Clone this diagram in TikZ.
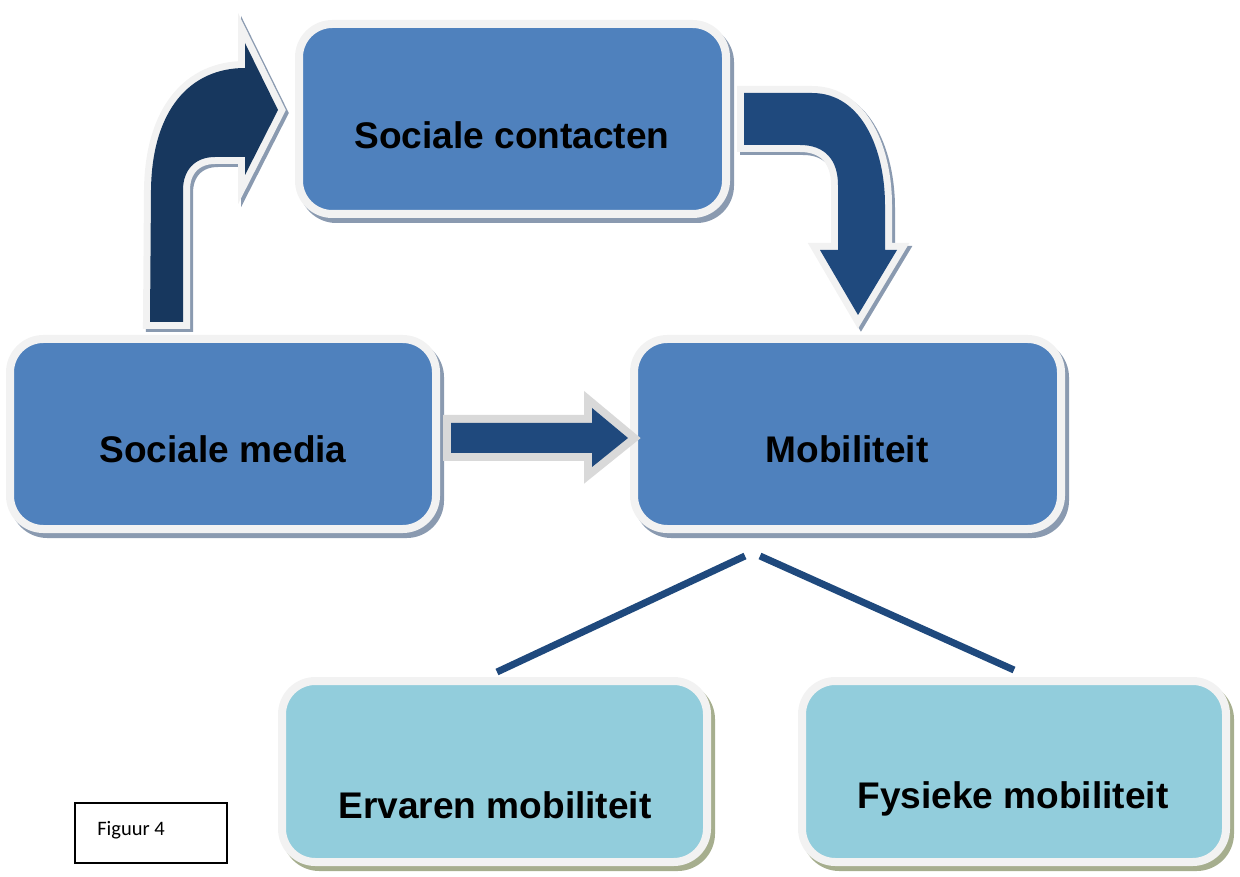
\documentclass[tikz,border=0pt]{standalone}
\usepackage{fontspec}
\setmainfont{Liberation Sans}
\newfontfamily\calibri{Carlito}
\definecolor{boxblue}{HTML}{4F81BD}
\definecolor{lightbox}{HTML}{92CDDC}
\definecolor{rim}{HTML}{F2F2F2}
\definecolor{rimdark}{HTML}{D9D9D9}
\definecolor{shadeblue}{HTML}{8A9AB0}
\definecolor{shadeolive}{HTML}{A6AE8E}
\definecolor{navy}{HTML}{17375E}
\definecolor{arrowblue}{HTML}{1F497D}
\tikzset{
  box/.style={rectangle, rounded corners=25pt, draw=rim, line width=6pt,
    inner sep=0pt, outer sep=0pt,
    preaction={draw=#1, fill=#1, line width=6pt,
      transform canvas={xshift=3pt, yshift=-3.75pt}}},
  bluebox/.style={box=shadeblue, fill=boxblue},
  cyanbox/.style={box=shadeolive, fill=lightbox},
  lbl/.style={anchor=base, inner sep=0pt, font=\fontsize{27.8}{30}\selectfont\bfseries},
  blockarrow/.style={line join=miter, line width=10.5pt},
  conn/.style={draw=arrowblue, line width=5.25pt},
}
\begin{document}
\begin{tikzpicture}[x=0.75pt, y=-0.75pt]
\useasboundingbox (0,0) rectangle (1240,877);

% boxes
\node[bluebox, minimum width=320.25pt, minimum height=142.5pt] (sc) at (512.5,119) {};
\node[bluebox, minimum width=319.5pt, minimum height=142.5pt] (sm) at (223,434) {};
\node[bluebox, minimum width=320.25pt, minimum height=142.5pt] (mob) at (847.5,434) {};
\node[cyanbox, minimum width=318.75pt, minimum height=135.75pt] (er) at (494.5,771.5) {};
\node[cyanbox, minimum width=318pt, minimum height=135.75pt] (fy) at (1014,771.5) {};

% labels
\node[lbl] (tsc) at (512,149) {Sociale contacten};
\node[lbl] (tsm) at (223,463) {Sociale media};
\node[lbl] (tmob) at (847,463) {Mobiliteit};
\node[lbl] (ter) at (495,818) {Ervaren mobiliteit};
\node[lbl] (tfy) at (1013,808) {Fysieke mobiliteit};

% curved arrow: Sociale media -> Sociale contacten
\def\arrowA{(150,322) -- (151,190) .. controls (152,110) and (190,68) .. (245,68)
  -- (245,43) -- (278,110) -- (245,175) -- (245,157) -- (215,157)
  .. controls (195,157) and (183,170) .. (183,190) -- (183,322) -- cycle}
\path[blockarrow, draw=shadeblue, fill=shadeblue, transform canvas={xshift=2.25pt, yshift=-2.25pt}] \arrowA;
\path[blockarrow, draw=rim, fill=rim] \arrowA;
\fill[navy] \arrowA;

% curved arrow: Sociale contacten -> Mobiliteit
\def\arrowB{(744,93) -- (812,93) .. controls (862,93) and (885,150) .. (885,205)
  -- (885,250) -- (897,250) -- (858,315) -- (820,250) -- (838,250) -- (838,185)
  .. controls (838,160) and (825,145) .. (800,145) -- (744,145) -- cycle}
\path[blockarrow, draw=shadeblue, fill=shadeblue, transform canvas={xshift=2.25pt, yshift=-2.25pt}] \arrowB;
\path[blockarrow, draw=rim, fill=rim] \arrowB;
\fill[arrowblue] \arrowB;

% straight arrow: Sociale media -> Mobiliteit
\def\arrowC{(451,423) -- (592,423) -- (592,408) -- (628,438) -- (592,467) -- (592,453) -- (451,453) -- cycle}
\path[line join=miter, line width=12pt, draw=rimdark, fill=rimdark] \arrowC;
\fill[arrowblue] \arrowC;

% connectors from Mobiliteit to the two kinds
\coordinate (la) at (745,556);
\coordinate (lb) at (497,672);
\coordinate (ra) at (760,556);
\coordinate (rb) at (1014,670);
\draw[conn] (la) -- (lb);
\draw[conn] (ra) -- (rb);

% caption box
\node[draw=black, line width=1.1pt, minimum width=114pt, minimum height=45pt, inner sep=0pt] (fig) at (151,833) {};
\node[anchor=base west, inner sep=0pt, font=\calibri\fontsize{15.4}{18}\selectfont] (figt) at (97,835) {Figuur 4};
\end{tikzpicture}
\end{document}
